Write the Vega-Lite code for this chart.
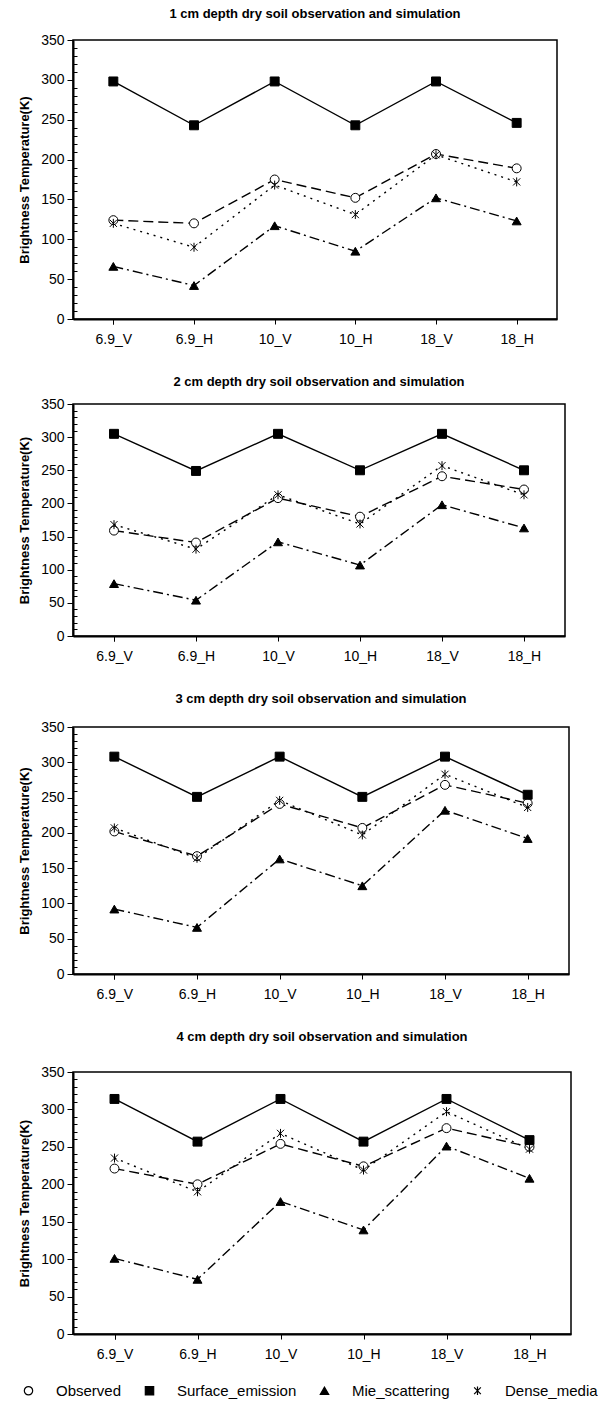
{
  "$schema": "https://vega.github.io/schema/vega-lite/v6.json",
  "padding": {"left": 17, "top": 7, "right": 5, "bottom": 2},
  "background": "white",
  "config": {
    "font": "Liberation Sans",
    "view": {"stroke": "black", "strokeWidth": 1.5},
    "title": {"fontSize": 13, "fontWeight": "bold", "color": "black", "anchor": "middle", "frame": "group", "offset": 12},
    "concat": {"spacing": 28},
    "legend": {"orient": "none", "legendX": -52, "legendY": 1343, "direction": "horizontal", "labelFontSize": 15, "labelColor": "black", "symbolStrokeColor": "black", "symbolStrokeWidth": 1.2, "symbolSize": 70, "labelOffset": 20, "columnPadding": 20},
    "axisX": {"labelAngle": 0, "labelFontSize": 14, "labelColor": "black", "tickBand": "extent", "tickSize": 5, "tickColor": "black", "domainColor": "black", "domainWidth": 2, "labelPadding": 8},
    "axisY": {"grid": false, "labelFontSize": 14, "labelColor": "black", "tickColor": "black", "domainColor": "black", "domainWidth": 2, "titleFontSize": 13, "titleFontWeight": "bold", "titleColor": "black", "titlePadding": 9, "labelPadding": 3}
  },
  "data": {"values": [
    {"panel": 1, "band": "6.9_V", "series": "Observed", "value": 124},
    {"panel": 1, "band": "6.9_H", "series": "Observed", "value": 120},
    {"panel": 1, "band": "10_V", "series": "Observed", "value": 175},
    {"panel": 1, "band": "10_H", "series": "Observed", "value": 152},
    {"panel": 1, "band": "18_V", "series": "Observed", "value": 207},
    {"panel": 1, "band": "18_H", "series": "Observed", "value": 189},
    {"panel": 1, "band": "6.9_V", "series": "Surface_emission", "value": 298},
    {"panel": 1, "band": "6.9_H", "series": "Surface_emission", "value": 243},
    {"panel": 1, "band": "10_V", "series": "Surface_emission", "value": 298},
    {"panel": 1, "band": "10_H", "series": "Surface_emission", "value": 243},
    {"panel": 1, "band": "18_V", "series": "Surface_emission", "value": 298},
    {"panel": 1, "band": "18_H", "series": "Surface_emission", "value": 246},
    {"panel": 1, "band": "6.9_V", "series": "Mie_scattering", "value": 66},
    {"panel": 1, "band": "6.9_H", "series": "Mie_scattering", "value": 42},
    {"panel": 1, "band": "10_V", "series": "Mie_scattering", "value": 117},
    {"panel": 1, "band": "10_H", "series": "Mie_scattering", "value": 85},
    {"panel": 1, "band": "18_V", "series": "Mie_scattering", "value": 152},
    {"panel": 1, "band": "18_H", "series": "Mie_scattering", "value": 123},
    {"panel": 1, "band": "6.9_V", "series": "Dense_media", "value": 120},
    {"panel": 1, "band": "6.9_H", "series": "Dense_media", "value": 90},
    {"panel": 1, "band": "10_V", "series": "Dense_media", "value": 168},
    {"panel": 1, "band": "10_H", "series": "Dense_media", "value": 131},
    {"panel": 1, "band": "18_V", "series": "Dense_media", "value": 206},
    {"panel": 1, "band": "18_H", "series": "Dense_media", "value": 172},
    {"panel": 2, "band": "6.9_V", "series": "Observed", "value": 159},
    {"panel": 2, "band": "6.9_H", "series": "Observed", "value": 141},
    {"panel": 2, "band": "10_V", "series": "Observed", "value": 208},
    {"panel": 2, "band": "10_H", "series": "Observed", "value": 180},
    {"panel": 2, "band": "18_V", "series": "Observed", "value": 241},
    {"panel": 2, "band": "18_H", "series": "Observed", "value": 221},
    {"panel": 2, "band": "6.9_V", "series": "Surface_emission", "value": 305},
    {"panel": 2, "band": "6.9_H", "series": "Surface_emission", "value": 249},
    {"panel": 2, "band": "10_V", "series": "Surface_emission", "value": 305},
    {"panel": 2, "band": "10_H", "series": "Surface_emission", "value": 250},
    {"panel": 2, "band": "18_V", "series": "Surface_emission", "value": 305},
    {"panel": 2, "band": "18_H", "series": "Surface_emission", "value": 250},
    {"panel": 2, "band": "6.9_V", "series": "Mie_scattering", "value": 79},
    {"panel": 2, "band": "6.9_H", "series": "Mie_scattering", "value": 54},
    {"panel": 2, "band": "10_V", "series": "Mie_scattering", "value": 142},
    {"panel": 2, "band": "10_H", "series": "Mie_scattering", "value": 107},
    {"panel": 2, "band": "18_V", "series": "Mie_scattering", "value": 198},
    {"panel": 2, "band": "18_H", "series": "Mie_scattering", "value": 163},
    {"panel": 2, "band": "6.9_V", "series": "Dense_media", "value": 168},
    {"panel": 2, "band": "6.9_H", "series": "Dense_media", "value": 131},
    {"panel": 2, "band": "10_V", "series": "Dense_media", "value": 213},
    {"panel": 2, "band": "10_H", "series": "Dense_media", "value": 169},
    {"panel": 2, "band": "18_V", "series": "Dense_media", "value": 257},
    {"panel": 2, "band": "18_H", "series": "Dense_media", "value": 213},
    {"panel": 3, "band": "6.9_V", "series": "Observed", "value": 202},
    {"panel": 3, "band": "6.9_H", "series": "Observed", "value": 167},
    {"panel": 3, "band": "10_V", "series": "Observed", "value": 241},
    {"panel": 3, "band": "10_H", "series": "Observed", "value": 207},
    {"panel": 3, "band": "18_V", "series": "Observed", "value": 268},
    {"panel": 3, "band": "18_H", "series": "Observed", "value": 242},
    {"panel": 3, "band": "6.9_V", "series": "Surface_emission", "value": 308},
    {"panel": 3, "band": "6.9_H", "series": "Surface_emission", "value": 251},
    {"panel": 3, "band": "10_V", "series": "Surface_emission", "value": 308},
    {"panel": 3, "band": "10_H", "series": "Surface_emission", "value": 251},
    {"panel": 3, "band": "18_V", "series": "Surface_emission", "value": 308},
    {"panel": 3, "band": "18_H", "series": "Surface_emission", "value": 254},
    {"panel": 3, "band": "6.9_V", "series": "Mie_scattering", "value": 92},
    {"panel": 3, "band": "6.9_H", "series": "Mie_scattering", "value": 66},
    {"panel": 3, "band": "10_V", "series": "Mie_scattering", "value": 163},
    {"panel": 3, "band": "10_H", "series": "Mie_scattering", "value": 125},
    {"panel": 3, "band": "18_V", "series": "Mie_scattering", "value": 232},
    {"panel": 3, "band": "18_H", "series": "Mie_scattering", "value": 192},
    {"panel": 3, "band": "6.9_V", "series": "Dense_media", "value": 207},
    {"panel": 3, "band": "6.9_H", "series": "Dense_media", "value": 164},
    {"panel": 3, "band": "10_V", "series": "Dense_media", "value": 246},
    {"panel": 3, "band": "10_H", "series": "Dense_media", "value": 197},
    {"panel": 3, "band": "18_V", "series": "Dense_media", "value": 283},
    {"panel": 3, "band": "18_H", "series": "Dense_media", "value": 236},
    {"panel": 4, "band": "6.9_V", "series": "Observed", "value": 221},
    {"panel": 4, "band": "6.9_H", "series": "Observed", "value": 200},
    {"panel": 4, "band": "10_V", "series": "Observed", "value": 254},
    {"panel": 4, "band": "10_H", "series": "Observed", "value": 224},
    {"panel": 4, "band": "18_V", "series": "Observed", "value": 275},
    {"panel": 4, "band": "18_H", "series": "Observed", "value": 250},
    {"panel": 4, "band": "6.9_V", "series": "Surface_emission", "value": 314},
    {"panel": 4, "band": "6.9_H", "series": "Surface_emission", "value": 257},
    {"panel": 4, "band": "10_V", "series": "Surface_emission", "value": 314},
    {"panel": 4, "band": "10_H", "series": "Surface_emission", "value": 257},
    {"panel": 4, "band": "18_V", "series": "Surface_emission", "value": 314},
    {"panel": 4, "band": "18_H", "series": "Surface_emission", "value": 259},
    {"panel": 4, "band": "6.9_V", "series": "Mie_scattering", "value": 101},
    {"panel": 4, "band": "6.9_H", "series": "Mie_scattering", "value": 73},
    {"panel": 4, "band": "10_V", "series": "Mie_scattering", "value": 177},
    {"panel": 4, "band": "10_H", "series": "Mie_scattering", "value": 139},
    {"panel": 4, "band": "18_V", "series": "Mie_scattering", "value": 251},
    {"panel": 4, "band": "18_H", "series": "Mie_scattering", "value": 208},
    {"panel": 4, "band": "6.9_V", "series": "Dense_media", "value": 235},
    {"panel": 4, "band": "6.9_H", "series": "Dense_media", "value": 190},
    {"panel": 4, "band": "10_V", "series": "Dense_media", "value": 268},
    {"panel": 4, "band": "10_H", "series": "Dense_media", "value": 219},
    {"panel": 4, "band": "18_V", "series": "Dense_media", "value": 297},
    {"panel": 4, "band": "18_H", "series": "Dense_media", "value": 247}
  ]},
  "resolve": {"scale": {"x": "independent", "y": "independent"}},
  "vconcat": [
    {
      "title": {"text": "1 cm depth dry soil observation and simulation", "offset": 12},
      "width": 484, "height": 279,
      "transform": [{"filter": "datum.panel === 1"}],
      "encoding": {
        "x": {"field": "band", "type": "nominal", "sort": ["6.9_V", "6.9_H", "10_V", "10_H", "18_V", "18_H"], "title": null},
        "y": {"field": "value", "type": "quantitative", "scale": {"domain": [0, 350]}, "title": "Brightness Temperature(K)",
              "axis": {"values": [0,10,20,30,40,50,60,70,80,90,100,110,120,130,140,150,160,170,180,190,200,210,220,230,240,250,260,270,280,290,300,310,320,330,340,350],
                       "labelExpr": "datum.value % 50 === 0 ? datum.label : ''",
                       "tickSize": {"condition": {"test": "datum.value % 50 === 0", "value": 6}, "value": -4}}}
      },
      "layer": [
        {"transform": [{"filter": "datum.series === 'Observed'"}], "mark": {"type": "line", "stroke": "black", "strokeWidth": 1.4, "strokeDash": [10, 5]}, "encoding": {}},
        {"transform": [{"filter": "datum.series === 'Surface_emission'"}], "mark": {"type": "line", "stroke": "black", "strokeWidth": 1.4}, "encoding": {}},
        {"transform": [{"filter": "datum.series === 'Mie_scattering'"}], "mark": {"type": "line", "stroke": "black", "strokeWidth": 1.4, "strokeDash": [10, 4, 2, 4]}, "encoding": {}},
        {"transform": [{"filter": "datum.series === 'Dense_media'"}], "mark": {"type": "line", "stroke": "black", "strokeWidth": 1.4, "strokeDash": [2, 5]}, "encoding": {}},
        {"mark": {"type": "point", "filled": true, "strokeWidth": 1, "size": 80, "opacity": 1},
         "encoding": {
           "shape": {"field": "series", "type": "nominal", "title": null,
             "scale": {"domain": ["Observed", "Surface_emission", "Mie_scattering", "Dense_media"], "range": ["circle", "square", "triangle-up", "M0,-1L0,1M-0.8,-0.8L0.8,0.8M-0.8,0.8L0.8,-0.8"]},
             "legend": {"orient": "none", "legendX": -52, "legendY": 1343, "direction": "horizontal"}},
           "fill": {"field": "series", "type": "nominal", "title": null,
             "scale": {"domain": ["Observed", "Surface_emission", "Mie_scattering", "Dense_media"], "range": ["white", "black", "black", "black"]},
             "legend": {"orient": "none", "legendX": -52, "legendY": 1343, "direction": "horizontal"}},
           "stroke": {"field": "series", "type": "nominal", "title": null,
             "scale": {"domain": ["Observed", "Surface_emission", "Mie_scattering", "Dense_media"], "range": ["black", "black", "black", "black"]},
             "legend": {"orient": "none", "legendX": -52, "legendY": 1343, "direction": "horizontal"}}
         }}
      ]
    },
    {
      "title": {"text": "2 cm depth dry soil observation and simulation", "offset": 8},
      "width": 492, "height": 232,
      "transform": [{"filter": "datum.panel === 2"}],
      "encoding": {
        "x": {"field": "band", "type": "nominal", "sort": ["6.9_V", "6.9_H", "10_V", "10_H", "18_V", "18_H"], "title": null},
        "y": {"field": "value", "type": "quantitative", "scale": {"domain": [0, 350]}, "title": "Brightness Temperature(K)",
              "axis": {"values": [0,10,20,30,40,50,60,70,80,90,100,110,120,130,140,150,160,170,180,190,200,210,220,230,240,250,260,270,280,290,300,310,320,330,340,350],
                       "labelExpr": "datum.value % 50 === 0 ? datum.label : ''",
                       "tickSize": {"condition": {"test": "datum.value % 50 === 0", "value": 6}, "value": -4}}}
      },
      "layer": [
        {"transform": [{"filter": "datum.series === 'Observed'"}], "mark": {"type": "line", "stroke": "black", "strokeWidth": 1.4, "strokeDash": [10, 5]}, "encoding": {}},
        {"transform": [{"filter": "datum.series === 'Surface_emission'"}], "mark": {"type": "line", "stroke": "black", "strokeWidth": 1.4}, "encoding": {}},
        {"transform": [{"filter": "datum.series === 'Mie_scattering'"}], "mark": {"type": "line", "stroke": "black", "strokeWidth": 1.4, "strokeDash": [10, 4, 2, 4]}, "encoding": {}},
        {"transform": [{"filter": "datum.series === 'Dense_media'"}], "mark": {"type": "line", "stroke": "black", "strokeWidth": 1.4, "strokeDash": [2, 5]}, "encoding": {}},
        {"mark": {"type": "point", "filled": true, "strokeWidth": 1, "size": 80, "opacity": 1},
         "encoding": {
           "shape": {"field": "series", "type": "nominal", "title": null,
             "scale": {"domain": ["Observed", "Surface_emission", "Mie_scattering", "Dense_media"], "range": ["circle", "square", "triangle-up", "M0,-1L0,1M-0.8,-0.8L0.8,0.8M-0.8,0.8L0.8,-0.8"]},
             "legend": {"orient": "none", "legendX": -52, "legendY": 1343, "direction": "horizontal"}},
           "fill": {"field": "series", "type": "nominal", "title": null,
             "scale": {"domain": ["Observed", "Surface_emission", "Mie_scattering", "Dense_media"], "range": ["white", "black", "black", "black"]},
             "legend": {"orient": "none", "legendX": -52, "legendY": 1343, "direction": "horizontal"}},
           "stroke": {"field": "series", "type": "nominal", "title": null,
             "scale": {"domain": ["Observed", "Surface_emission", "Mie_scattering", "Dense_media"], "range": ["black", "black", "black", "black"]},
             "legend": {"orient": "none", "legendX": -52, "legendY": 1343, "direction": "horizontal"}}
         }}
      ]
    },
    {
      "title": {"text": "3 cm depth dry soil observation and simulation", "offset": 14},
      "width": 496, "height": 247,
      "transform": [{"filter": "datum.panel === 3"}],
      "encoding": {
        "x": {"field": "band", "type": "nominal", "sort": ["6.9_V", "6.9_H", "10_V", "10_H", "18_V", "18_H"], "title": null},
        "y": {"field": "value", "type": "quantitative", "scale": {"domain": [0, 350]}, "title": "Brightness Temperature(K)",
              "axis": {"values": [0,10,20,30,40,50,60,70,80,90,100,110,120,130,140,150,160,170,180,190,200,210,220,230,240,250,260,270,280,290,300,310,320,330,340,350],
                       "labelExpr": "datum.value % 50 === 0 ? datum.label : ''",
                       "tickSize": {"condition": {"test": "datum.value % 50 === 0", "value": 6}, "value": -4}}}
      },
      "layer": [
        {"transform": [{"filter": "datum.series === 'Observed'"}], "mark": {"type": "line", "stroke": "black", "strokeWidth": 1.4, "strokeDash": [10, 5]}, "encoding": {}},
        {"transform": [{"filter": "datum.series === 'Surface_emission'"}], "mark": {"type": "line", "stroke": "black", "strokeWidth": 1.4}, "encoding": {}},
        {"transform": [{"filter": "datum.series === 'Mie_scattering'"}], "mark": {"type": "line", "stroke": "black", "strokeWidth": 1.4, "strokeDash": [10, 4, 2, 4]}, "encoding": {}},
        {"transform": [{"filter": "datum.series === 'Dense_media'"}], "mark": {"type": "line", "stroke": "black", "strokeWidth": 1.4, "strokeDash": [2, 5]}, "encoding": {}},
        {"mark": {"type": "point", "filled": true, "strokeWidth": 1, "size": 80, "opacity": 1},
         "encoding": {
           "shape": {"field": "series", "type": "nominal", "title": null,
             "scale": {"domain": ["Observed", "Surface_emission", "Mie_scattering", "Dense_media"], "range": ["circle", "square", "triangle-up", "M0,-1L0,1M-0.8,-0.8L0.8,0.8M-0.8,0.8L0.8,-0.8"]},
             "legend": {"orient": "none", "legendX": -52, "legendY": 1343, "direction": "horizontal"}},
           "fill": {"field": "series", "type": "nominal", "title": null,
             "scale": {"domain": ["Observed", "Surface_emission", "Mie_scattering", "Dense_media"], "range": ["white", "black", "black", "black"]},
             "legend": {"orient": "none", "legendX": -52, "legendY": 1343, "direction": "horizontal"}},
           "stroke": {"field": "series", "type": "nominal", "title": null,
             "scale": {"domain": ["Observed", "Surface_emission", "Mie_scattering", "Dense_media"], "range": ["black", "black", "black", "black"]},
             "legend": {"orient": "none", "legendX": -52, "legendY": 1343, "direction": "horizontal"}}
         }}
      ]
    },
    {
      "title": {"text": "4 cm depth dry soil observation and simulation", "offset": 21},
      "width": 498, "height": 262,
      "transform": [{"filter": "datum.panel === 4"}],
      "encoding": {
        "x": {"field": "band", "type": "nominal", "sort": ["6.9_V", "6.9_H", "10_V", "10_H", "18_V", "18_H"], "title": null},
        "y": {"field": "value", "type": "quantitative", "scale": {"domain": [0, 350]}, "title": "Brightness Temperature(K)",
              "axis": {"values": [0,10,20,30,40,50,60,70,80,90,100,110,120,130,140,150,160,170,180,190,200,210,220,230,240,250,260,270,280,290,300,310,320,330,340,350],
                       "labelExpr": "datum.value % 50 === 0 ? datum.label : ''",
                       "tickSize": {"condition": {"test": "datum.value % 50 === 0", "value": 6}, "value": -4}}}
      },
      "layer": [
        {"transform": [{"filter": "datum.series === 'Observed'"}], "mark": {"type": "line", "stroke": "black", "strokeWidth": 1.4, "strokeDash": [10, 5]}, "encoding": {}},
        {"transform": [{"filter": "datum.series === 'Surface_emission'"}], "mark": {"type": "line", "stroke": "black", "strokeWidth": 1.4}, "encoding": {}},
        {"transform": [{"filter": "datum.series === 'Mie_scattering'"}], "mark": {"type": "line", "stroke": "black", "strokeWidth": 1.4, "strokeDash": [10, 4, 2, 4]}, "encoding": {}},
        {"transform": [{"filter": "datum.series === 'Dense_media'"}], "mark": {"type": "line", "stroke": "black", "strokeWidth": 1.4, "strokeDash": [2, 5]}, "encoding": {}},
        {"mark": {"type": "point", "filled": true, "strokeWidth": 1, "size": 80, "opacity": 1},
         "encoding": {
           "shape": {"field": "series", "type": "nominal", "title": null,
             "scale": {"domain": ["Observed", "Surface_emission", "Mie_scattering", "Dense_media"], "range": ["circle", "square", "triangle-up", "M0,-1L0,1M-0.8,-0.8L0.8,0.8M-0.8,0.8L0.8,-0.8"]},
             "legend": {"orient": "none", "legendX": -52, "legendY": 1343, "direction": "horizontal"}},
           "fill": {"field": "series", "type": "nominal", "title": null,
             "scale": {"domain": ["Observed", "Surface_emission", "Mie_scattering", "Dense_media"], "range": ["white", "black", "black", "black"]},
             "legend": {"orient": "none", "legendX": -52, "legendY": 1343, "direction": "horizontal"}},
           "stroke": {"field": "series", "type": "nominal", "title": null,
             "scale": {"domain": ["Observed", "Surface_emission", "Mie_scattering", "Dense_media"], "range": ["black", "black", "black", "black"]},
             "legend": {"orient": "none", "legendX": -52, "legendY": 1343, "direction": "horizontal"}}
         }}
      ]
    }
  ]
}
